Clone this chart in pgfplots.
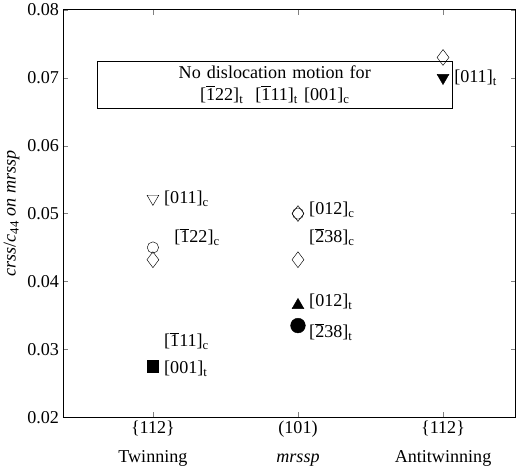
\documentclass[border=0pt]{standalone}
\usepackage{pgfplots}
\pgfplotsset{compat=1.18}
\usepackage{fontspec}
\setmainfont{Liberation Serif}
\newcommand{\bo}{$\overline{\mbox{1}}$}
\newcommand{\sub}[1]{\textsubscript{#1}}
\newcommand{\fs}{\fontsize{16}{19}\selectfont}
\begin{document}
\begin{tikzpicture}
\begin{axis}[scale only axis, width=400pt, height=360pt,
 xmin=-0.62, xmax=2.5, ymin=0.02, ymax=0.08,
 xtick={0,1,2}, xticklabels={{\{112\}\\[6pt]Twinning},{(101)\\[6pt]\textit{mrssp}},{\{112\}\\[6pt]Antitwinning}},
 xticklabel style={align=center, font=\fs},
 ytick={0.02,0.03,...,0.08}, scaled y ticks=false,
 yticklabel style={/pgf/number format/fixed,/pgf/number format/precision=2,/pgf/number format/fixed zerofill, font=\fs},
 /pgf/number format/assume math mode=true,
 ylabel={\textit{crss}/\textit{c}\sub{44} \textit{on mrssp}}, ylabel style={font=\fs},
 tick align=inside, axis line style={thick}, clip=false]
\addplot[only marks, mark=triangle, mark options={rotate=180}, mark size=6pt] coordinates {(0,0.0522)};
\addplot[only marks, mark=o, mark size=5pt] coordinates {(0,0.0450) (1,0.0500)};
\addplot[only marks, mark=diamond, mark size=7pt] coordinates {(0,0.0432) (1,0.0500) (1,0.0432) (2,0.0730)};
\addplot[only marks, mark=ellipse, mark options={x radius=3pt,y radius=5pt}] coordinates {(0,0.0312)};
\addplot[only marks, mark=square*, mark size=5pt] coordinates {(0,0.0275)};
\addplot[only marks, mark=triangle*, mark size=6pt] coordinates {(1,0.0365)};
\addplot[only marks, mark=*, mark size=6.5pt] coordinates {(1,0.0335)};
\addplot[only marks, mark=triangle*, mark options={rotate=180}, mark size=6pt] coordinates {(2,0.0700)};
\begin{scope}[every node/.style={anchor=west, font=\fs}]
\node at (axis cs:0.05,0.0522) {[011]\sub{c}};
\node at (axis cs:0.12,0.0465) {[\bo22]\sub{c}};
\node at (axis cs:0.05,0.0312) {[\bo11]\sub{c}};
\node at (axis cs:0.05,0.0272) {[001]\sub{t}};
\node at (axis cs:1.05,0.0505) {[012]\sub{c}};
\node at (axis cs:1.05,0.0465) {[$\overline{\mbox{2}}$38]\sub{c}};
\node at (axis cs:1.05,0.0370) {[012]\sub{t}};
\node at (axis cs:1.05,0.0325) {[$\overline{\mbox{2}}$38]\sub{t}};
\node at (axis cs:2.05,0.0700) {[011]\sub{t}};
\end{scope}
\node[draw, align=center, font=\fs, inner sep=4pt, text width=305pt] at (axis cs:0.84,0.0690)
 {No dislocation motion for\\ {}[\bo22]\sub{t}\ \ [\bo11]\sub{t}\ [001]\sub{c}};
\end{axis}
\end{tikzpicture}
\end{document}
